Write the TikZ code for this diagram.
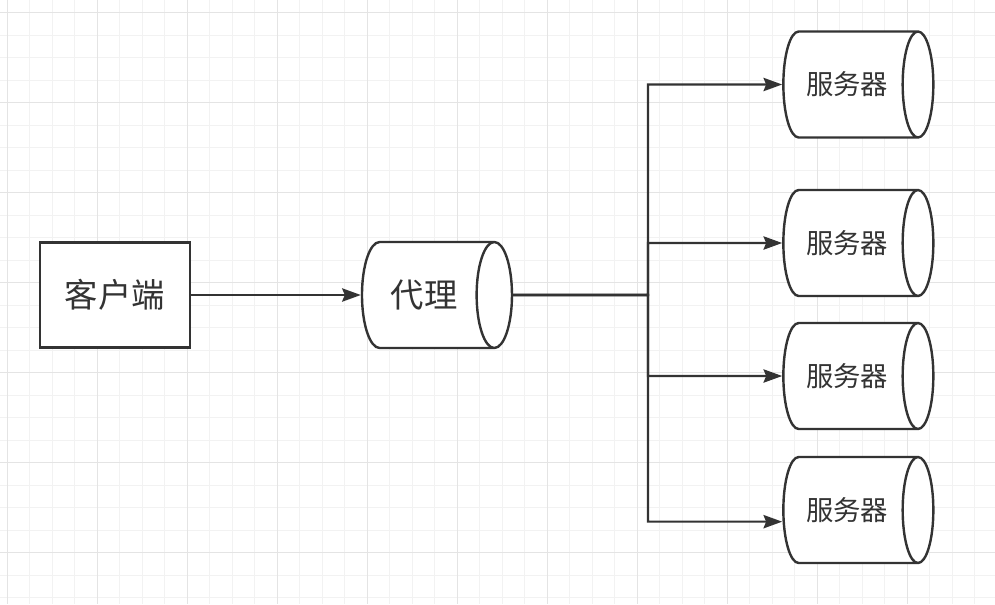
\documentclass[tikz,border=0pt]{standalone}
\usepackage{fontspec}
\setmainfont{Noto Sans CJK SC}
\usetikzlibrary{shapes.geometric,arrows.meta}

\definecolor{linec}{HTML}{333333}
\definecolor{gridminor}{HTML}{F2F2F2}
\definecolor{gridmajor}{HTML}{E4E4E4}

\begin{document}
\begin{tikzpicture}[x=0.75pt, y=-0.75pt,
    box/.style={draw=linec, line width=1.8pt, fill=white, rectangle, minimum width=112.5pt, minimum height=78.75pt, font=\fontsize{25}{30}\selectfont, text=linec},
    store/.style={draw=linec, line width=1.8pt, fill=white, cylinder, shape border rotate=0, shape aspect=0.9, minimum height=112.5pt, minimum width=79.5pt, text=linec},
    link/.style={draw=linec, line width=1.6pt, -{Stealth[length=14pt, width=10pt, inset=2pt]}}]
% Background grid
\useasboundingbox (0,0) rectangle (995,604);
\fill[white] (0,0) rectangle (995,604);
\foreach \i in {0,...,44} {
    \draw[gridminor, line width=0.75pt] (7.3+22.5*\i,0) -- (7.3+22.5*\i,604);
}
\foreach \i in {0,...,26} {
    \draw[gridminor, line width=0.75pt] (0,12.7+22.5*\i) -- (995,12.7+22.5*\i);
}
\foreach \i in {0,...,11} {
    \draw[gridmajor, line width=0.75pt] (7.3+90*\i,0) -- (7.3+90*\i,604);
}
\foreach \i in {0,...,6} {
    \draw[gridmajor, line width=0.75pt] (0,12.7+90*\i) -- (995,12.7+90*\i);
}

% Client
\node[box] (client) at (114.7,295) {客户端};

% Proxy
\node[store, font=\fontsize{25}{30}\selectfont] (proxy) at (424,295) {代理};

% Servers
\node[store, font=\fontsize{20.5}{24}\selectfont] (s1) at (847,84.5) {服务器};
\node[store, font=\fontsize{20.5}{24}\selectfont] (s2) at (847,243) {服务器};
\node[store, font=\fontsize{20.5}{24}\selectfont] (s3) at (847,376) {服务器};
\node[store, font=\fontsize{20.5}{24}\selectfont] (s4) at (847,510) {服务器};

% Arrows
\coordinate (split) at (648,295);
\draw[link] (client) -- (proxy);
\draw[link] (proxy.east) -- (split) |- (s1.west);
\draw[link] (proxy.east) -- (split) |- (s2.west);
\draw[link] (proxy.east) -- (split) |- (s3.west);
\draw[link] (proxy.east) -- (split) |- ([yshift=-8.75pt]s4.west);

\end{tikzpicture}
\end{document}
